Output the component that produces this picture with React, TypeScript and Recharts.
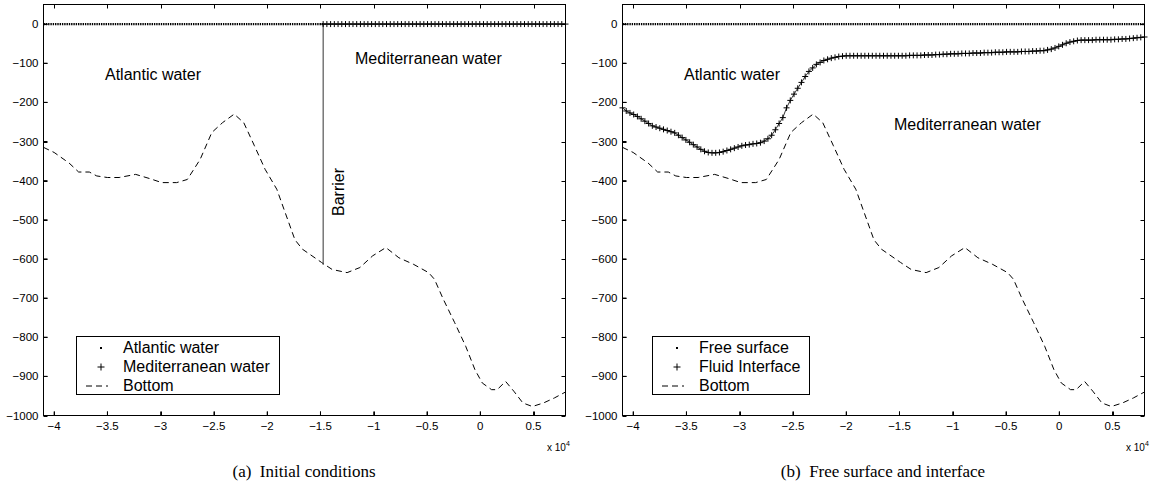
// Two-panel bathymetry figure: (a) initial conditions, (b) free surface and interface.
// MATLAB-style box with inward ticks on all four sides.

import React from "react";
import { LineChart, Line, XAxis, YAxis, Legend } from "recharts";

const X_MIN = -41000;
const X_MAX = 8000;
const Y_MIN = -1000;
const Y_MAX = 50;

const xTicks = [-40000, -35000, -30000, -25000, -20000, -15000, -10000, -5000, 0, 5000];
const yTicks = [0, -100, -200, -300, -400, -500, -600, -700, -800, -900, -1000];

// sea bottom (m)
const bottomX = [
  -41000, -40000, -38600, -37700, -36700, -36000, -35000, -33900, -32350, -31000,
  -29900, -28500, -27500, -26300, -25200, -24200, -23100, -22200, -21200, -20200,
  -19100, -17400, -16700, -14900, -13900, -12500, -11300, -10100, -8860, -7640,
  -6250, -4850, -4300, -3470, -2400, -1370, -500, 190, 1060, 1580,
  2380, 3150, 4000, 4890, 5930, 6970, 8000,
];
const bottomDepth = [
  -315, -328, -355, -378, -378, -388, -392, -392, -384, -395,
  -405, -405, -397, -346, -277, -252, -230, -252, -311, -371,
  -422, -551, -575, -609, -627, -635, -622, -592, -571, -597,
  -614, -635, -652, -703, -763, -823, -883, -917, -934, -934,
  -913, -938, -968, -977, -968, -955, -940,
];

// barrier separating the two water masses at t = 0
const barrierX = -14750;
const barrierDepth = [0, -615];

// computational mesh and fluid interface depth at each node (panel b)
const meshStep = 350;
const interfaceDepth = [
  -214, -222, -227, -231, -236, -242, -248, -254, -260, -263,
  -266, -269, -272, -275, -278, -284, -290, -296, -302, -308,
  -314, -320, -325, -328, -329, -329, -328, -326, -323, -320,
  -317, -314, -311, -309, -308, -306, -305, -303, -299, -293,
  -284, -270, -254, -239, -214, -195, -179, -164, -149, -134,
  -121, -112, -103, -98, -93, -90, -87, -85, -83, -82,
  -81, -81, -81, -81, -81, -81, -81, -81, -81, -81,
  -81, -81, -81, -81, -81, -81, -81, -80, -80, -80,
  -80, -79, -79, -79, -78, -78, -77, -77, -76, -76,
  -76, -75, -75, -75, -74, -74, -74, -73, -73, -73,
  -72, -72, -72, -71, -71, -71, -71, -70, -70, -70,
  -69, -69, -68, -68, -66, -64, -61, -57, -53, -49,
  -46, -44, -42, -41, -41, -41, -41, -40, -40, -40,
  -40, -40, -39, -39, -38, -38, -37, -36, -35, -34,
  -33,
];

const meshX = interfaceDepth.map((_, i) => X_MIN + i * meshStep);

const bottomData = bottomX.map((x, i) => ({ x, y: bottomDepth[i] }));
const barrierData = barrierDepth.map((y) => ({ x: barrierX, y }));
const atlanticData = [{ x: X_MIN, y: 0 }, { x: barrierX, y: 0 }];
const medData = meshX.filter((x) => x >= barrierX).map((x) => ({ x, y: 0 }));
const surfaceData = [{ x: X_MIN, y: 0 }, { x: X_MAX, y: 0 }];
const interfaceData = meshX.map((x, i) => ({ x, y: interfaceDepth[i] }));

const SANS = "'Liberation Sans', Arial, Helvetica, sans-serif";
const SERIF = "'Liberation Serif', 'Times New Roman', serif";
const tickStyle = { fontFamily: SANS, fontSize: 11.5, fill: "#000" };

// plot rectangle inside each chart (YAxis width / margins below)
const PLOT_LEFT = 43.5;
const PLOT_TOP = 4.5;
const PLOT_W = 522;
const PLOT_H = 411;

const minus = (s: string) => s.replace("-", "\u2212");
const fmtX = (v: number) => minus(String(v / 10000));
const fmtY = (v: number) => minus(String(v));

const renderPlus = (p: any) => (
  <path
    key={p.index}
    d={`M${p.cx - 3},${p.cy}h6M${p.cx},${p.cy - 3}v6`}
    stroke="#000"
    strokeWidth={1}
    fill="none"
  />
);

// box outline + inward ticks on all four sides
function Frame({ left }: { left: number }) {
  const sx = (v: number) => PLOT_LEFT + ((v - X_MIN) / (X_MAX - X_MIN)) * PLOT_W;
  const sy = (v: number) => PLOT_TOP + ((Y_MAX - v) / (Y_MAX - Y_MIN)) * PLOT_H;
  const x0 = PLOT_LEFT;
  const x1 = PLOT_LEFT + PLOT_W;
  const y0 = PLOT_TOP;
  const y1 = PLOT_TOP + PLOT_H;
  const d = [
    ...xTicks.map((t) => `M${Math.round(sx(t)) + 0.5},${y1}v-4M${Math.round(sx(t)) + 0.5},${y0}v4`),
    ...yTicks.map((v) => `M${x0},${Math.round(sy(v)) + 0.5}h4M${x1},${Math.round(sy(v)) + 0.5}h-4`),
  ].join("");
  return (
    <svg
      width={580}
      height={445}
      style={{ position: "absolute", left, top: 0, pointerEvents: "none" }}
    >
      <rect x={x0} y={y0} width={PLOT_W} height={PLOT_H} fill="none" stroke="#000" strokeWidth={1} />
      <path d={d} stroke="#000" strokeWidth={1} fill="none" />
    </svg>
  );
}

type LegendKind = "dot" | "plus" | "dash";
interface LegendItem {
  label: string;
  kind: LegendKind;
}

const legendA: LegendItem[] = [
  { label: "Atlantic water", kind: "dot" },
  { label: "Mediterranean water", kind: "plus" },
  { label: "Bottom", kind: "dash" },
];
const legendB: LegendItem[] = [
  { label: "Free surface", kind: "dot" },
  { label: "Fluid Interface", kind: "plus" },
  { label: "Bottom", kind: "dash" },
];

function LegendBox({ items, width }: { items: LegendItem[]; width: number }) {
  return (
    <div
      style={{
        width,
        height: 59,
        boxSizing: "border-box",
        border: "1px solid #000",
        background: "#fff",
        paddingTop: 1,
        fontFamily: SANS,
        fontSize: 16,
        color: "#000",
      }}
    >
      {items.map((it) => (
        <div key={it.label} style={{ display: "flex", alignItems: "center", height: 19 }}>
          <svg width={46} height={19} style={{ flex: "none" }}>
            {it.kind === "dot" && <rect x={23} y={9} width={2} height={2} fill="#000" />}
            {it.kind === "plus" && <path d="M20.5,10h7M24,6.5v7" stroke="#000" strokeWidth={1} />}
            {it.kind === "dash" && (
              <line x1={9} y1={10} x2={31} y2={10} stroke="#000" strokeDasharray="6 4" />
            )}
          </svg>
          <span style={{ lineHeight: "19px" }}>{it.label}</span>
        </div>
      ))}
    </div>
  );
}

function Note({ x, y, children }: { x: number; y: number; children: React.ReactNode }) {
  return (
    <div
      style={{
        position: "absolute",
        left: x,
        top: y,
        transform: "translateY(-50%)",
        fontFamily: SANS,
        fontSize: 16,
        lineHeight: 1,
        whiteSpace: "nowrap",
        color: "#000",
      }}
    >
      {children}
    </div>
  );
}

function Caption({ cx, children }: { cx: number; children: React.ReactNode }) {
  return (
    <div
      style={{
        position: "absolute",
        left: cx,
        top: 471,
        transform: "translate(-50%, -50%)",
        fontFamily: SERIF,
        fontSize: 17,
        lineHeight: 1,
        whiteSpace: "pre",
        color: "#000",
      }}
    >
      {children}
    </div>
  );
}

function Exponent({ x }: { x: number }) {
  return (
    <div style={{ position: "absolute", left: x, top: 440, fontFamily: SANS, fontSize: 10, lineHeight: 1 }}>
      x 10<sup style={{ fontSize: 7, verticalAlign: 5 }}>4</sup>
    </div>
  );
}

export default function App() {
  return (
    <div style={{ position: "absolute", left: 0, top: 0, width: 1150, height: 493 }}>
      {/* (a) initial conditions */}
      <div style={{ position: "absolute", left: 0, top: 0 }}>
        <LineChart width={580} height={445} margin={{ top: 4.5, right: 14.5, bottom: 0, left: 0 }}>
          <XAxis dataKey="x" type="number" domain={[X_MIN, X_MAX]} ticks={xTicks} interval={0} tickFormatter={fmtX} tick={tickStyle} tickSize={-4} tickMargin={10} height={29.5} stroke="#000" />
          <YAxis type="number" domain={[Y_MIN, Y_MAX]} ticks={yTicks} interval={0} tickFormatter={fmtY} tick={tickStyle} tickSize={-4} tickMargin={9} width={43.5} stroke="#000" />
          <Line data={bottomData} dataKey="y" stroke="#000" strokeWidth={1} strokeDasharray="6 4" dot={false} isAnimationActive={false} />
          <Line data={barrierData} dataKey="y" stroke="#333" strokeWidth={1} dot={false} isAnimationActive={false} />
          <Line data={atlanticData} dataKey="y" stroke="#000" strokeWidth={2.2} strokeDasharray="1.4 0.9" dot={false} isAnimationActive={false} />
          <Line data={medData} dataKey="y" stroke="#000" strokeWidth={1} dot={renderPlus} isAnimationActive={false} />
          <Legend
            layout="horizontal"
            align="center"
            verticalAlign="middle"
            wrapperStyle={{ left: 76, top: 336, width: 204, height: 59 }}
            content={() => <LegendBox width={204} items={legendA} />}
          />
        </LineChart>
      </div>
      <Frame left={0} />
      <Note x={105} y={75}>Atlantic water</Note>
      <Note x={355} y={59}>Mediterranean water</Note>
      <div
        style={{
          position: "absolute",
          left: 339,
          top: 192,
          transform: "translate(-50%, -50%) rotate(-90deg)",
          fontFamily: SANS,
          fontSize: 16,
          lineHeight: 1,
        }}
      >
        Barrier
      </div>
      <Exponent x={547} />
      <Caption cx={304}>(a)  Initial conditions</Caption>

      {/* (b) free surface and interface */}
      <div style={{ position: "absolute", left: 579, top: 0 }}>
        <LineChart width={571} height={445} margin={{ top: 4.5, right: 5.5, bottom: 0, left: 0 }}>
          <XAxis dataKey="x" type="number" domain={[X_MIN, X_MAX]} ticks={xTicks} interval={0} tickFormatter={fmtX} tick={tickStyle} tickSize={-4} tickMargin={10} height={29.5} stroke="#000" />
          <YAxis type="number" domain={[Y_MIN, Y_MAX]} ticks={yTicks} interval={0} tickFormatter={fmtY} tick={tickStyle} tickSize={-4} tickMargin={9} width={43.5} stroke="#000" />
          <Line data={bottomData} dataKey="y" stroke="#000" strokeWidth={1} strokeDasharray="6 4" dot={false} isAnimationActive={false} />
          <Line data={surfaceData} dataKey="y" stroke="#000" strokeWidth={2.2} strokeDasharray="1.4 0.9" dot={false} isAnimationActive={false} />
          <Line data={interfaceData} dataKey="y" stroke="#000" strokeWidth={0.8} dot={renderPlus} isAnimationActive={false} />
          <Legend
            layout="horizontal"
            align="center"
            verticalAlign="middle"
            wrapperStyle={{ left: 73, top: 336, width: 158, height: 59 }}
            content={() => <LegendBox width={158} items={legendB} />}
          />
        </LineChart>
      </div>
      <Frame left={579} />
      <Note x={684} y={75}>Atlantic water</Note>
      <Note x={894} y={125}>Mediterranean water</Note>
      <Exponent x={1126} />
      <Caption cx={883}>(b)  Free surface and interface</Caption>
    </div>
  );
}
